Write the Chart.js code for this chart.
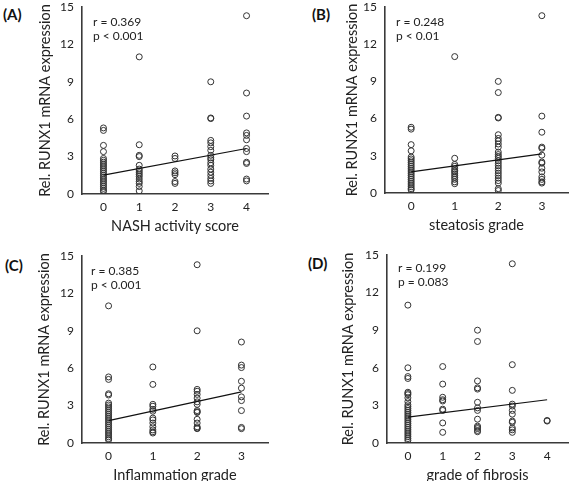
<!DOCTYPE html>
<html>
<head>
<meta charset="utf-8">
<script src="https://cdn.jsdelivr.net/npm/chart.js@4.4.1/dist/chart.umd.min.js"></script>
<style>
  html, body { margin: 0; padding: 0; background: #fff; overflow: hidden; }
  body { width: 573px; height: 481px; position: relative; }
  canvas { position: absolute; }
  .tag { position: absolute; font: bold 15px Lato, sans-serif; color: #111; line-height: 15px; }
</style>
</head>
<body>
<div class="tag" style="left:3px;top:7px">(A)</div>
<div class="tag" style="left:312px;top:7px">(B)</div>
<div class="tag" style="left:5px;top:258px">(C)</div>
<div class="tag" style="left:308px;top:256px">(D)</div>
<canvas id="chartA" width="286" height="240" style="left:0;top:0"></canvas>
<canvas id="chartB" width="287" height="240" style="left:286px;top:0"></canvas>
<canvas id="chartC" width="286" height="250" style="left:0;top:240px"></canvas>
<canvas id="chartD" width="287" height="250" style="left:286px;top:240px"></canvas>
<script>
// (A) NASH activity score
const nashGroups = [0, 1, 2, 3, 4];
const nashValues = [
  [5.3, 5.1, 3.9, 3.4, 2.85, 2.7, 2.55, 2.4, 2.25, 2.1, 1.95, 1.8, 1.65, 1.5, 1.35, 1.2, 1.05, 0.9, 0.75, 0.6, 0.45, 0.3, 0.2],
  [11.0, 3.95, 3.1, 3.0, 2.3, 2.0, 1.85, 1.7, 1.55, 1.4, 1.2, 1.0, 0.85, 0.6, 0.25],
  [3.05, 2.85, 1.85, 1.7, 1.55, 1.0, 0.85],
  [9.0, 6.1, 6.05, 4.3, 4.1, 3.8, 3.5, 3.1, 2.9, 2.75, 2.5, 2.3, 2.0, 1.75, 1.5, 1.25, 1.05, 0.85],
  [14.3, 8.1, 6.25, 4.9, 4.7, 4.35, 3.65, 3.4, 2.55, 2.45, 1.2, 1.05]
];
const nashFitX = [0, 4];
const nashFitY = [1.52, 3.65];
const nashStats = ['r = 0.369', 'p < 0.001'];

// (B) steatosis grade
const steatosisGroups = [0, 1, 2, 3];
const steatosisValues = [
  [5.3, 5.15, 3.9, 3.4, 2.9, 2.75, 2.6, 2.45, 2.3, 2.15, 2.0, 1.85, 1.7, 1.55, 1.4, 1.25, 1.1, 0.95, 0.8, 0.65, 0.5, 0.35, 0.25],
  [11.0, 2.8, 2.3, 2.15, 1.95, 1.8, 1.7, 1.55, 1.4, 1.25, 1.1, 0.9, 0.75],
  [9.0, 8.1, 6.1, 6.05, 4.7, 4.4, 4.2, 3.95, 3.7, 3.3, 3.1, 2.95, 2.8, 2.6, 2.4, 2.2, 2.0, 1.8, 1.6, 1.4, 1.2, 1.0, 0.8, 0.35, 0.2],
  [14.3, 6.2, 4.9, 3.7, 3.6, 3.05, 2.5, 2.4, 2.0, 1.7, 1.3, 1.1, 0.9, 0.8]
];
const steatosisFitX = [0, 3];
const steatosisFitY = [1.7, 3.15];
const steatosisStats = ['r = 0.248', 'p < 0.01'];

// (C) inflammation grade
const inflammationGroups = [0, 1, 2, 3];
const inflammationValues = [
  [11.0, 5.3, 5.1, 3.95, 3.85, 3.2, 3.05, 2.9, 2.75, 2.6, 2.45, 2.3, 2.15, 2.0, 1.85, 1.7, 1.55, 1.4, 1.25, 1.1, 0.95, 0.8, 0.65, 0.5, 0.35, 0.25],
  [6.1, 4.7, 3.1, 2.95, 2.7, 2.55, 2.0, 1.85, 1.6, 1.3, 1.05, 0.9, 0.8],
  [14.3, 9.0, 4.3, 4.15, 3.9, 3.6, 3.3, 3.1, 2.6, 2.5, 2.45, 1.9, 1.6, 1.3, 1.2, 1.15],
  [8.1, 6.25, 6.05, 4.95, 4.4, 3.7, 3.4, 2.6, 1.25, 1.15]
];
const inflammationFitX = [0, 3];
const inflammationFitY = [1.8, 4.1];
const inflammationStats = ['r = 0.385', 'p < 0.001'];

// (D) grade of fibrosis
const fibrosisGroups = [0, 1, 2, 3, 4];
const fibrosisValues = [
  [11.0, 6.0, 5.3, 5.15, 4.05, 3.95, 3.85, 3.6, 3.3, 3.05, 2.9, 2.75, 2.6, 2.45, 2.3, 2.15, 2.0, 1.85, 1.7, 1.55, 1.4, 1.25, 1.1, 0.95, 0.8, 0.65, 0.5, 0.35, 0.2],
  [6.1, 4.7, 3.65, 3.45, 3.35, 2.7, 2.6, 1.6, 0.85],
  [9.0, 8.1, 4.95, 4.4, 4.3, 3.25, 2.8, 2.6, 1.9, 1.35, 1.25, 1.15, 1.0, 0.9],
  [14.3, 6.25, 4.2, 3.1, 2.95, 2.6, 2.3, 1.75, 1.65, 1.2, 1.05, 0.85],
  [1.8, 1.75]
];
const fibrosisFitX = [0, 4];
const fibrosisFitY = [2.07, 3.45];
const fibrosisStats = ['r = 0.199', 'p = 0.083'];

const yTicks = [0, 3, 6, 9, 12, 15];
const yTitle = 'Rel. RUNX1 mRNA expression';

const ink = '#222';
const axisColor = '#3a3a3a';
const fontFamily = 'Lato, "Open Sans", sans-serif';

// draws the r / p text in the top-left corner of the plot area
const statsPlugin = {
  id: 'stats',
  afterDraw(chart, args, opts) {
    const { ctx, chartArea } = chart;
    ctx.save();
    ctx.font = '12px ' + fontFamily;
    ctx.fillStyle = ink;
    ctx.textBaseline = 'middle';
    opts.lines.forEach((t, i) => {
      ctx.fillText(t, chartArea.left + opts.dx, chartArea.top + opts.dy + i * 14.5);
    });
    ctx.restore();
  }
};

// p: canvas box + plot area in page pixels
function makePanel(id, p) {
  const canvas = document.getElementById(id);
  const W = canvas.width, H = canvas.height;
  const areaLeft = p.left - p.cx;
  const areaRight = p.right - p.cx;
  const areaTop = p.top - p.cy;
  const areaBottom = p.bottom - p.cy;

  const datasets = [{
    type: 'line',
    data: p.fitX.map((x, i) => ({ x: x, y: p.fitY[i] })),
    borderColor: '#111',
    borderWidth: 1.2,
    pointRadius: 0,
    fill: false
  }];
  p.groups.forEach((g, i) => {
    datasets.push({
      data: p.values[i].map(v => ({ x: g, y: v })),
      pointRadius: 3,
      pointBorderWidth: 1,
      pointBorderColor: '#333',
      pointBackgroundColor: 'rgba(0,0,0,0)'
    });
  });

  return new Chart(canvas, {
    type: 'scatter',
    data: { datasets },
    plugins: [statsPlugin],
    options: {
      responsive: false,
      animation: false,
      events: [],
      layout: { padding: { left: 0, top: areaTop, right: W - areaRight, bottom: 0 } },
      plugins: {
        legend: { display: false },
        tooltip: { enabled: false },
        stats: { lines: p.stats, dx: p.statX, dy: p.statY }
      },
      scales: {
        x: {
          type: 'linear',
          min: -0.6,
          max: p.groups[p.groups.length - 1] + 0.6,
          afterBuildTicks: s => { s.ticks = p.groups.map(g => ({ value: g })); },
          afterFit: s => { s.height = H - areaBottom; s.paddingLeft = 0; s.paddingRight = 0; },
          ticks: { padding: 6, color: ink, font: { family: fontFamily, size: 12 } },
          grid: { display: false, drawTicks: false },
          border: { color: axisColor, width: 1.6 },
          title: {
            display: true, text: p.xTitle, color: ink,
            font: { family: fontFamily, size: 14.5 },
            padding: { top: 0, bottom: H - (areaBottom + 32) - 8.7 }
          }
        },
        y: {
          min: 0,
          max: 15,
          afterBuildTicks: s => { s.ticks = yTicks.map(v => ({ value: v })); },
          afterFit: s => { s.width = areaLeft; s.paddingTop = 0; s.paddingBottom = 0; },
          ticks: { padding: 8, color: ink, font: { family: fontFamily, size: 12 } },
          grid: { display: false, drawTicks: false },
          border: { color: axisColor, width: 1.6 },
          title: {
            display: true, text: yTitle, color: ink,
            font: { family: fontFamily, size: 14.5 },
            padding: { top: p.yTitleX - p.cx - 8.7, bottom: 0 }
          }
        }
      }
    }
  });
}

makePanel('chartA', {
  cx: 0, cy: 0, left: 82, right: 268, top: 7, bottom: 194, yTitleX: 45,
  groups: nashGroups, values: nashValues, fitX: nashFitX, fitY: nashFitY,
  stats: nashStats, statX: 11, statY: 15, xTitle: 'NASH activity score'
});
makePanel('chartB', {
  cx: 286, cy: 0, left: 385, right: 573, top: 7, bottom: 193, yTitleX: 352,
  groups: steatosisGroups, values: steatosisValues, fitX: steatosisFitX, fitY: steatosisFitY,
  stats: steatosisStats, statX: 11, statY: 15, xTitle: 'steatosis grade'
});
makePanel('chartC', {
  cx: 0, cy: 240, left: 82, right: 268, top: 256, bottom: 443, yTitleX: 44,
  groups: inflammationGroups, values: inflammationValues, fitX: inflammationFitX, fitY: inflammationFitY,
  stats: inflammationStats, statX: 9, statY: 15, xTitle: 'Inflammation grade'
});
makePanel('chartD', {
  cx: 286, cy: 240, left: 387, right: 573, top: 255, bottom: 443, yTitleX: 348,
  groups: fibrosisGroups, values: fibrosisValues, fitX: fibrosisFitX, fitY: fibrosisFitY,
  stats: fibrosisStats, statX: 11, statY: 13, xTitle: 'grade of fibrosis'
});
</script>
</body>
</html>
